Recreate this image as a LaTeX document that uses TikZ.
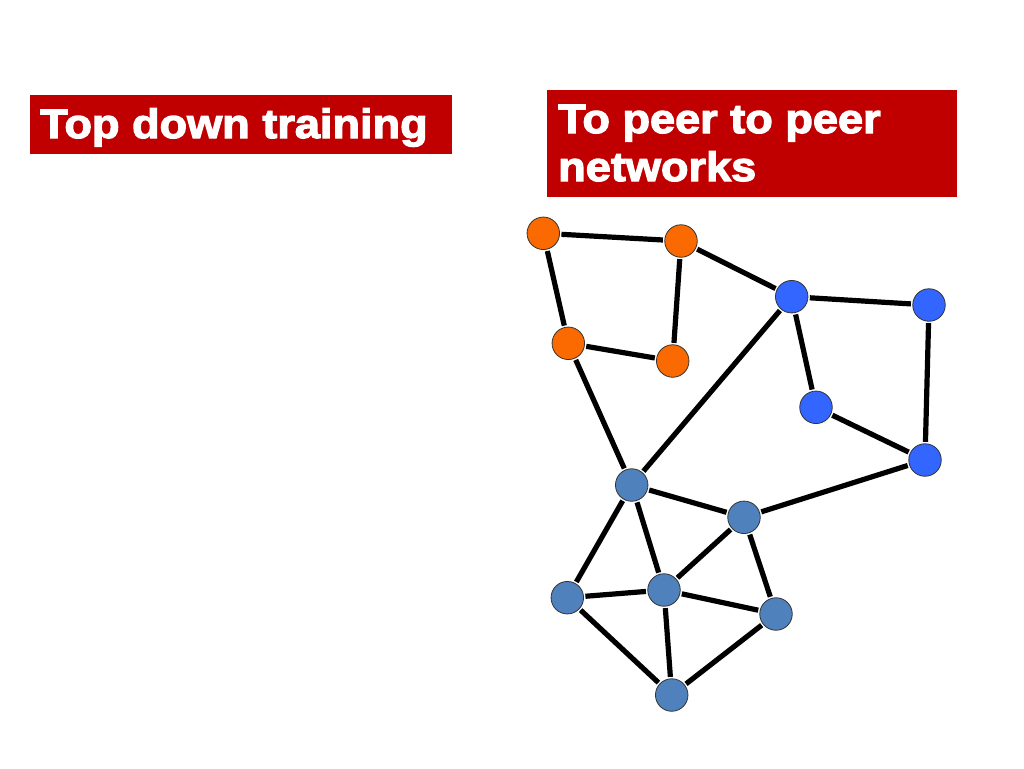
\documentclass[tikz,border=0pt]{standalone}
\usepackage{fontspec}
\newfontfamily\titlefont[FakeStretch=1.1,FakeBold=3]{Liberation Sans Bold}
\definecolor{boxred}{RGB}{192,0,0}
\definecolor{orangenode}{RGB}{250,106,0}
\definecolor{bluenode}{RGB}{51,102,255}
\definecolor{steelnode}{RGB}{79,129,189}
\tikzset{
  peer/.style={circle, minimum size=32.5pt, inner sep=0pt, draw=black!80, line width=0.8pt},
  orng/.style={peer, fill=orangenode},
  blu/.style={peer, fill=bluenode},
  stl/.style={peer, fill=steelnode},
  link/.style={line width=5.2pt, shorten >=1.5pt, shorten <=1.5pt},
  title/.style={text=white, inner sep=0pt, anchor=base west, font=\titlefont\fontsize{41}{48}\selectfont}
}
\begin{document}
\begin{tikzpicture}[x=1pt,y=-1pt]
\useasboundingbox (0,0) rectangle (1024,768);
\fill[white] (0,0) rectangle (1024,768);
% title boxes
\fill[boxred] (30,95) rectangle (452,154);
\node[title] (t1) at (40,138) {Top down training};
\fill[boxred] (547,90) rectangle (957,197);
\node[title] (t2a) at (558,133) {To peer to peer};
\node[title] (t2b) at (558,181) {networks};
% nodes
\node[orng] (o1) at (543.3,233.3) {};
\node[orng] (o2) at (681,241) {};
\node[orng] (o3) at (568.3,343.3) {};
\node[orng] (o4) at (672.7,361) {};
\node[blu] (b1) at (791.7,296.7) {};
\node[blu] (b2) at (929,305) {};
\node[blu] (b3) at (816,407.3) {};
\node[blu] (b4) at (925,460) {};
\node[stl] (s1) at (631.7,485) {};
\node[stl] (s2) at (744,517.3) {};
\node[stl] (s3) at (567.3,597.7) {};
\node[stl] (s4) at (664,590) {};
\node[stl] (s5) at (776,614) {};
\node[stl] (s6) at (671.7,695) {};
% links
\foreach \a/\b in {o1/o2,o1/o3,o2/o4,o3/o4,o2/b1,o3/s1,b1/s1,b1/b2,b1/b3,b2/b4,b3/b4,b4/s2,s1/s2,s1/s3,s1/s4,s2/s4,s2/s5,s3/s4,s4/s5,s3/s6,s4/s6,s5/s6}
  \draw[link] (\a) -- (\b);
\end{tikzpicture}
\end{document}
